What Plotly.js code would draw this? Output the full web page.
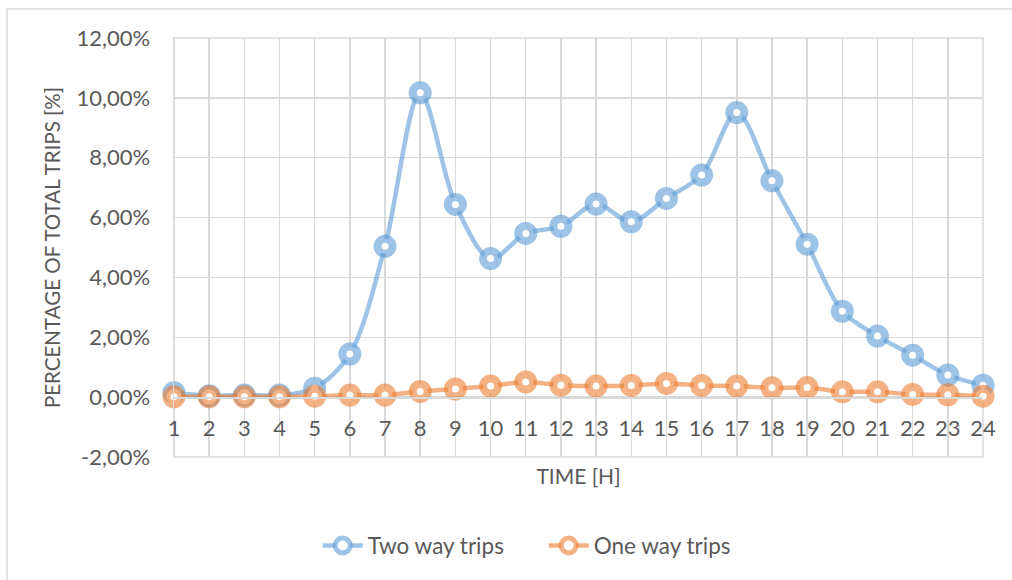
<!DOCTYPE html>
<html>
<head>
<meta charset="utf-8">
<script src="https://cdn.plot.ly/plotly-3.0.1.min.js"></script>
<style>
  html, body { margin: 0; padding: 0; background: #ffffff; }
  #chart { width: 1012px; height: 580px; }
</style>
</head>
<body>
<div id="chart"></div>
<script>
// Hour of day (1..24)
const hours = [1, 2, 3, 4, 5, 6, 7, 8, 9, 10, 11, 12, 13, 14, 15, 16, 17, 18, 19, 20, 21, 22, 23, 24];

// Share of total trips per hour, in percent
const twoWayTrips = [0.15, 0.05, 0.07, 0.07, 0.30, 1.44, 5.04, 10.17, 6.44, 4.63, 5.47, 5.71,
                     6.45, 5.86, 6.64, 7.42, 9.51, 7.23, 5.11, 2.87, 2.04, 1.40, 0.74, 0.40];
const oneWayTrips = [0.01, 0.01, 0.01, 0.01, 0.03, 0.07, 0.07, 0.19, 0.27, 0.37, 0.51, 0.40,
                     0.37, 0.39, 0.46, 0.39, 0.37, 0.31, 0.32, 0.18, 0.18, 0.09, 0.08, 0.03];

const seriesNames = ['Two way trips', 'One way trips'];
const yTickValues = [-2, 0, 2, 4, 6, 8, 10, 12];
// percent labels with a decimal comma, e.g. "12,00%"
const yTickLabels = yTickValues.map(v => v.toFixed(2).replace('.', ',') + '%');

const FONT = 'Lato, "Liberation Sans", sans-serif';
const TEXT = '#595959';
const GRID = '#d9d9d9';

function series(name, y, rgb) {
  return {
    type: 'scatter',
    mode: 'lines+markers',
    name: name,
    x: hours,
    y: y,
    cliponaxis: false,
    line: { color: 'rgba(' + rgb + ',0.6)', width: 4.5, shape: 'spline', smoothing: 0.9 },
    marker: {
      symbol: 'circle',
      size: 15,
      color: '#ffffff',
      line: { color: 'rgba(' + rgb + ',0.6)', width: 8 }
    },
    hoverinfo: 'x+y'
  };
}

const data = [
  series(seriesNames[0], twoWayTrips, '91,155,213'),
  series(seriesNames[1], oneWayTrips, '237,125,49')
];

const layout = {
  width: 1012,
  height: 580,
  margin: { l: 174, r: 29, t: 38, b: 123 },
  paper_bgcolor: '#ffffff',
  plot_bgcolor: '#ffffff',
  font: { family: FONT, color: TEXT, size: 21 },
  showlegend: true,
  legend: {
    orientation: 'h',
    x: 0.457, xanchor: 'center',
    y: -0.212, yanchor: 'middle',
    font: { family: FONT, color: TEXT, size: 22.5 },
    itemwidth: 40,
    entrywidth: 171,
    bgcolor: 'rgba(0,0,0,0)'
  },
  xaxis: {
    type: 'linear',
    range: [1, 24],
    tickmode: 'array',
    tickvals: hours,
    ticktext: hours.map(String),
    showgrid: true,
    gridcolor: GRID,
    gridwidth: 1.5,
    zeroline: false,
    showline: true,
    linecolor: GRID,
    linewidth: 1.5,
    ticks: '',
    ticklabelstandoff: 11,
    anchor: 'free',
    position: 2 / 14,
    tickfont: { family: FONT, color: TEXT, size: 22 },
    title: { text: 'TIME [H]', font: { family: FONT, color: TEXT, size: 21 }, standoff: 29 },
    fixedrange: true
  },
  yaxis: {
    range: [-2, 12],
    tickmode: 'array',
    tickvals: yTickValues,
    ticktext: yTickLabels,
    showgrid: true,
    gridcolor: GRID,
    gridwidth: 1.5,
    zeroline: false,
    showline: true,
    linecolor: GRID,
    linewidth: 1.5,
    ticks: '',
    ticklabelstandoff: 18,
    tickfont: { family: FONT, color: TEXT, size: 22 },
    title: { text: 'PERCENTAGE OF TOTAL TRIPS [%]', font: { family: FONT, color: TEXT, size: 20.5 }, standoff: 10 },
    fixedrange: true
  },
  shapes: [
    // outer chart frame
    {
      type: 'rect', xref: 'paper', yref: 'paper',
      x0: -0.2064, x1: 1.06, y0: -0.35, y1: 1.069,
      line: { color: GRID, width: 1.5 },
      fillcolor: 'rgba(0,0,0,0)',
      layer: 'below'
    },
    // right and bottom edges of the plot area
    {
      type: 'rect', xref: 'paper', yref: 'paper',
      x0: 0, x1: 1, y0: 0, y1: 1,
      line: { color: GRID, width: 1.5 },
      fillcolor: 'rgba(0,0,0,0)',
      layer: 'below'
    }
  ]
};

Plotly.newPlot('chart', data, layout, { displayModeBar: false, staticPlot: true });
</script>
</body>
</html>
